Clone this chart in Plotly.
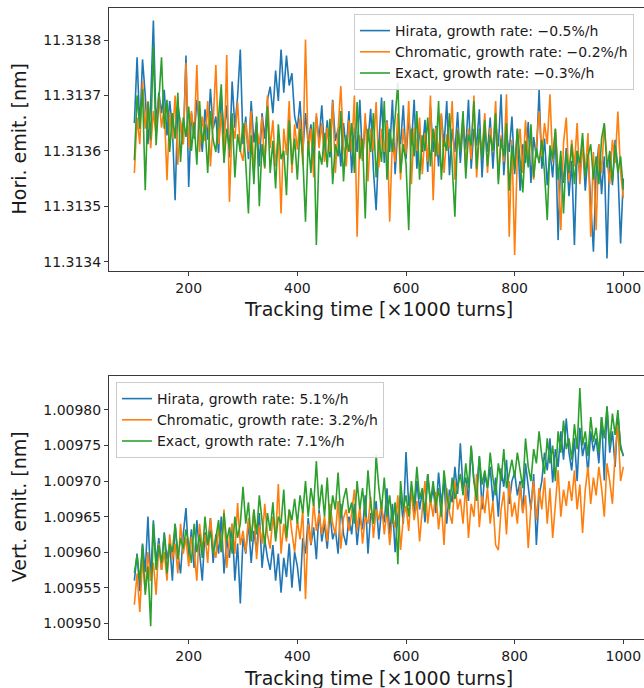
import plotly.graph_objects as go

# x grid: tracking time in units of 1000 turns
tracking_time = list(range(100, 1001, 5))

# Horizontal emittance, offsets above 11.313 nm in units of 1e-6 nm
HORI_BASE = 11.313
hori_hirata = [
    650, 769, 640, 765, 700, 612, 688, 835, 645, 705,
    668, 710, 628, 690, 642, 511, 684, 650, 612, 772,
    535, 668, 622, 692, 645, 598, 675, 620, 712, 640,
    662, 596, 702, 630, 682, 588, 725, 642, 698, 783,
    612, 662, 585, 690, 615, 652, 572, 668, 622, 692,
    716, 668, 745, 690, 783, 705, 772, 718, 740, 662,
    640, 690, 598, 668, 612, 648, 582, 662, 620, 682,
    598, 655, 588, 692, 618, 640, 572, 650, 602, 672,
    560, 642, 598, 692, 582, 652, 618, 676, 566, 493,
    612, 696, 578, 655, 598, 692, 558, 640, 612, 682,
    585, 660, 610, 692, 568, 640, 598, 656, 562, 680,
    598, 645, 572, 665, 608, 690, 556, 640, 598, 670,
    578, 650, 602, 692, 568, 640, 610, 675, 552, 640,
    598, 660, 568, 650, 608, 702, 556, 630, 598, 662,
    558, 640, 528, 612, 578, 652, 542, 625, 588, 710,
    568, 622, 538, 600, 552, 632, 439, 590, 542, 605,
    518, 582, 430, 600, 558, 620, 528, 595, 508, 418,
    562, 612, 522, 590, 406, 600, 538, 620, 568, 433,
    550,
]
hori_chromatic = [
    560, 660, 612, 725, 640, 690, 605, 672, 628, 700,
    642, 680, 547, 668, 622, 700, 575, 655, 612, 759,
    605, 672, 625, 755, 598, 662, 618, 690, 572, 650,
    755, 612, 668, 580, 773, 508, 650, 622, 688, 600,
    582, 652, 598, 672, 558, 640, 612, 662, 568, 700,
    605, 655, 572, 628, 487, 640, 592, 690, 560, 648,
    602, 660, 575, 801, 598, 640, 552, 668, 605, 650,
    580, 642, 598, 690, 560, 632, 717, 608, 572, 655,
    598, 700, 445, 628, 582, 668, 545, 640, 600, 688,
    570, 640, 598, 652, 472, 622, 580, 668, 548, 640,
    595, 690, 540, 642, 600, 660, 558, 632, 580, 700,
    511, 642, 592, 668, 560, 630, 605, 690, 548, 640,
    602, 662, 568, 640, 585, 700, 552, 630, 598, 668,
    560, 642, 598, 690, 548, 628, 580, 702, 445, 620,
    412, 598, 640, 560, 655, 585, 630, 548, 612, 672,
    590, 650, 612, 702, 580, 640, 560, 457, 615, 660,
    545, 620, 572, 650, 540, 608, 560, 632, 445, 598,
    457, 612, 560, 648, 585, 540, 620, 578, 671, 560,
    515,
]
hori_exact = [
    583, 700, 640, 712, 529, 688, 620, 789, 610, 680,
    769, 640, 692, 598, 668, 622, 705, 580, 660, 625,
    680, 600, 652, 575, 690, 612, 648, 560, 672, 620,
    598, 662, 720, 578, 640, 602, 668, 552, 630, 598,
    650, 578, 487, 628, 540, 662, 500, 612, 570, 680,
    560, 618, 532, 648, 585, 600, 520, 655, 575, 622,
    548, 640, 590, 472, 618, 560, 652, 430, 600, 575,
    632, 570, 658, 540, 612, 590, 672, 545, 628, 598,
    650, 560, 688, 585, 622, 478, 640, 598, 668, 552,
    620, 580, 690, 548, 640, 598, 668, 723, 560, 612,
    578, 457, 640, 590, 672, 548, 628, 600, 660, 572,
    640, 590, 690, 548, 620, 600, 668, 565, 481, 638,
    598, 672, 550, 630, 610, 690, 568, 640, 585, 655,
    572, 628, 600, 668, 540, 622, 590, 650, 528, 610,
    565, 640, 588, 525, 618, 570, 648, 552, 605, 578,
    620, 560, 475, 610, 585, 640, 548, 600, 487, 598,
    560, 612, 540, 600, 578, 632, 552, 590, 612, 548,
    590, 540, 622, 650, 570, 598, 545, 610, 560, 590,
    530,
]

# Vertical emittance, offsets above 1.009 nm in units of 1e-6 nm
VERT_BASE = 1.009
vert_hirata = [
    560, 598, 545, 612, 572, 650, 560, 645, 585, 620,
    575, 628, 590, 612, 560, 640, 598, 570, 625, 662,
    590, 632, 578, 645, 600, 560, 628, 610, 648, 585,
    625, 598, 650, 570, 618, 592, 640, 560, 612, 528,
    620, 598, 642, 585, 630, 600, 655, 578, 618, 592,
    575, 610, 560, 598, 543, 592, 565, 612, 550, 600,
    580, 545, 620, 598, 648, 610, 635, 590, 660, 615,
    640, 605, 655, 618, 632, 598, 668, 625, 610, 650,
    625, 668, 610, 650, 632, 680, 598, 655, 640, 672,
    618, 660, 642, 690, 625, 668, 600, 652, 680, 640,
    741, 665, 690, 650, 700, 660, 685, 642, 710, 668,
    690, 655, 712, 668, 700, 640, 688, 670, 720, 682,
    753, 690, 705, 672, 748, 700, 685, 735, 660, 710,
    690, 720, 672, 705, 650, 718, 692, 730, 668, 700,
    712, 680, 700, 655, 725, 690, 660, 710, 610, 680,
    700, 740, 715, 760, 698, 745, 720, 770, 730, 788,
    740, 715, 760, 700, 775, 735, 755, 710, 770, 742,
    760, 725, 790, 701, 805, 740, 770, 720, 795, 750,
    735,
]
vert_chromatic = [
    526, 570, 516, 590, 545, 600, 560, 585, 540, 612,
    575, 600, 560, 625, 590, 612, 570, 640, 598, 620,
    580, 622, 600, 560, 640, 605, 625, 585, 648, 610,
    592, 635, 600, 660, 578, 620, 640, 598, 669, 610,
    630, 600, 648, 615, 660, 590, 638, 612, 668, 625,
    605, 650, 620, 696, 598, 640, 615, 660, 628, 600,
    645, 618, 660, 534, 640, 612, 670, 630, 655, 625,
    650, 615, 668, 640, 625, 672, 605, 648, 660, 630,
    655, 688, 630, 665, 612, 650, 640, 678, 620, 660,
    645, 670, 625, 660, 610, 650, 635, 680, 603, 648,
    665, 630, 690, 645, 672, 615, 660, 700, 640, 675,
    650, 685, 632, 668, 610, 690, 655, 640, 700, 660,
    675, 640, 695, 620, 668, 650, 710, 635, 680, 655,
    690, 640, 672, 610, 603, 660, 685, 625, 700, 650,
    670, 640, 695, 655, 680, 606, 665, 700, 645, 690,
    660, 705, 640, 690, 620, 675, 715, 650, 688, 665,
    700, 672, 715, 660, 695, 627, 688, 720, 668, 705,
    680, 720, 690, 650, 725, 700, 668, 740, 779, 700,
    720,
]
vert_exact = [
    571, 596, 560, 610, 540, 580, 496, 640, 575, 610,
    585, 625, 570, 612, 600, 640, 590, 620, 605, 632,
    612, 585, 640, 600, 625, 592, 650, 610, 630, 598,
    620, 645, 600, 655, 615, 635, 598, 650, 620, 640,
    692, 640, 670, 615, 660, 625, 680, 640, 610, 655,
    630, 670, 615, 650, 640, 688, 620, 660, 645, 675,
    640, 680, 655, 700, 650, 690, 665, 728, 660, 695,
    650, 705, 640, 680, 660, 712, 648, 675, 690, 655,
    670, 640, 700, 660, 690, 650, 715, 668, 640, 737,
    690, 660, 705, 650, 680, 640, 670, 583, 700, 660,
    680, 650, 700, 665, 720, 675, 690, 655, 710, 670,
    700, 665, 690, 650, 715, 680, 660, 705, 675, 690,
    710, 680, 725, 690, 750, 700, 672, 735, 695, 715,
    690, 740, 705, 680, 725, 700, 745, 690, 710, 730,
    705, 740, 715, 690, 760, 720, 700, 745, 725, 770,
    735, 710, 760, 725, 750, 700, 770, 740, 785, 745,
    760, 730, 780, 745, 831, 750, 770, 735, 790, 755,
    775, 740, 790, 760, 805, 750, 795, 765, 800, 745,
    737,
]

hori_labels = ["Hirata, growth rate: \u22120.5%/h",
               "Chromatic, growth rate: \u22120.2%/h",
               "Exact, growth rate: \u22120.3%/h"]
vert_labels = ["Hirata, growth rate: 5.1%/h",
               "Chromatic, growth rate: 3.2%/h",
               "Exact, growth rate: 7.1%/h"]
colors = ["#1f77b4", "#ff7f0e", "#2ca02c"]

hori_ticks = [11.3134, 11.3135, 11.3136, 11.3137, 11.3138]
vert_ticks = [1.00950, 1.00955, 1.00960, 1.00965, 1.00970, 1.00975, 1.00980]
x_ticks = [200, 400, 600, 800, 1000]


def to_nm(base, offsets):
    return [base + o * 1e-6 for o in offsets]


W, H = 644, 688
fig = go.Figure()
for lab, col, ser in zip(hori_labels, colors, [hori_hirata, hori_chromatic, hori_exact]):
    fig.add_trace(go.Scatter(x=tracking_time, y=to_nm(HORI_BASE, ser), mode="lines",
                             line=dict(color=col, width=1.6), name=lab,
                             xaxis="x", yaxis="y", legend="legend"))
for lab, col, ser in zip(vert_labels, colors, [vert_hirata, vert_chromatic, vert_exact]):
    fig.add_trace(go.Scatter(x=tracking_time, y=to_nm(VERT_BASE, ser), mode="lines",
                             line=dict(color=col, width=1.6), name=lab,
                             xaxis="x2", yaxis="y2", legend="legend2"))

axcol = "#3a3a3a"
font_tick = dict(family="DejaVu Sans", size=14, color="#1a1a1a")
xcommon = dict(range=[53.3, 1038.1], tickvals=x_ticks, ticks="outside", ticklen=4,
               tickcolor=axcol, showline=True, linecolor=axcol, linewidth=1,
               mirror=True, showgrid=False, zeroline=False, tickfont=font_tick)
ycommon = dict(ticks="outside", ticklen=4, tickcolor=axcol, showline=True,
               linecolor=axcol, linewidth=1, mirror=False, showgrid=False,
               zeroline=False, tickfont=font_tick)

xd = [109 / W, 1.0]
top_dom = [1 - 270.7 / H, 1 - 8.3 / H]
bot_dom = [1 - 638.7 / H, 1 - 376 / H]

fig.update_layout(
    width=W, height=H,
    margin=dict(l=0, r=0, t=0, b=0),
    paper_bgcolor="white", plot_bgcolor="white",
    font=dict(family="DejaVu Sans", size=14, color="#1a1a1a"),
    xaxis=dict(domain=xd, anchor="y", **xcommon),
    yaxis=dict(domain=top_dom, anchor="x", range=[11.3133838, 11.3138572],
               tickvals=hori_ticks, ticktext=[f"{v:.4f}" for v in hori_ticks], **ycommon),
    xaxis2=dict(domain=xd, anchor="y2", **xcommon),
    yaxis2=dict(domain=bot_dom, anchor="x2", range=[1.0094783, 1.0098478],
                tickvals=vert_ticks, ticktext=[f"{v:.5f}" for v in vert_ticks], **ycommon),
    legend=dict(x=354 / W, y=1 - 14 / H, xanchor="left", yanchor="top",
                bgcolor="rgba(255,255,255,0.85)", bordercolor="#cccccc", borderwidth=1,
                font=dict(family="DejaVu Sans", size=14, color="#1a1a1a")),
    legend2=dict(x=116 / W, y=1 - 382 / H, xanchor="left", yanchor="top",
                 bgcolor="rgba(255,255,255,0.85)", bordercolor="#cccccc", borderwidth=1,
                 font=dict(family="DejaVu Sans", size=14, color="#1a1a1a")),
    annotations=[
        dict(text="Tracking time [\u00d71000 turns]", x=378.4 / W, y=1 - 309 / H,
             xref="paper", yref="paper", showarrow=False, xanchor="center", yanchor="middle",
             font=dict(family="DejaVu Sans", size=19, color="#1a1a1a")),
        dict(text="Tracking time [\u00d71000 turns]", x=378.4 / W, y=1 - 677.5 / H,
             xref="paper", yref="paper", showarrow=False, xanchor="center", yanchor="middle",
             font=dict(family="DejaVu Sans", size=19, color="#1a1a1a")),
        dict(text="Hori. emit. [nm]", x=19 / W, y=1 - 139.5 / H, textangle=-90,
             xref="paper", yref="paper", showarrow=False, xanchor="center", yanchor="middle",
             font=dict(family="DejaVu Sans", size=19, color="#1a1a1a")),
        dict(text="Vert. emit. [nm]", x=19 / W, y=1 - 507.3 / H, textangle=-90,
             xref="paper", yref="paper", showarrow=False, xanchor="center", yanchor="middle",
             font=dict(family="DejaVu Sans", size=19, color="#1a1a1a")),
    ],
)

fig.write_html(
    "out.html",
    config={"displayModeBar": False},
    post_script="document.body.style.margin='0';document.body.style.overflow='hidden';",
)
